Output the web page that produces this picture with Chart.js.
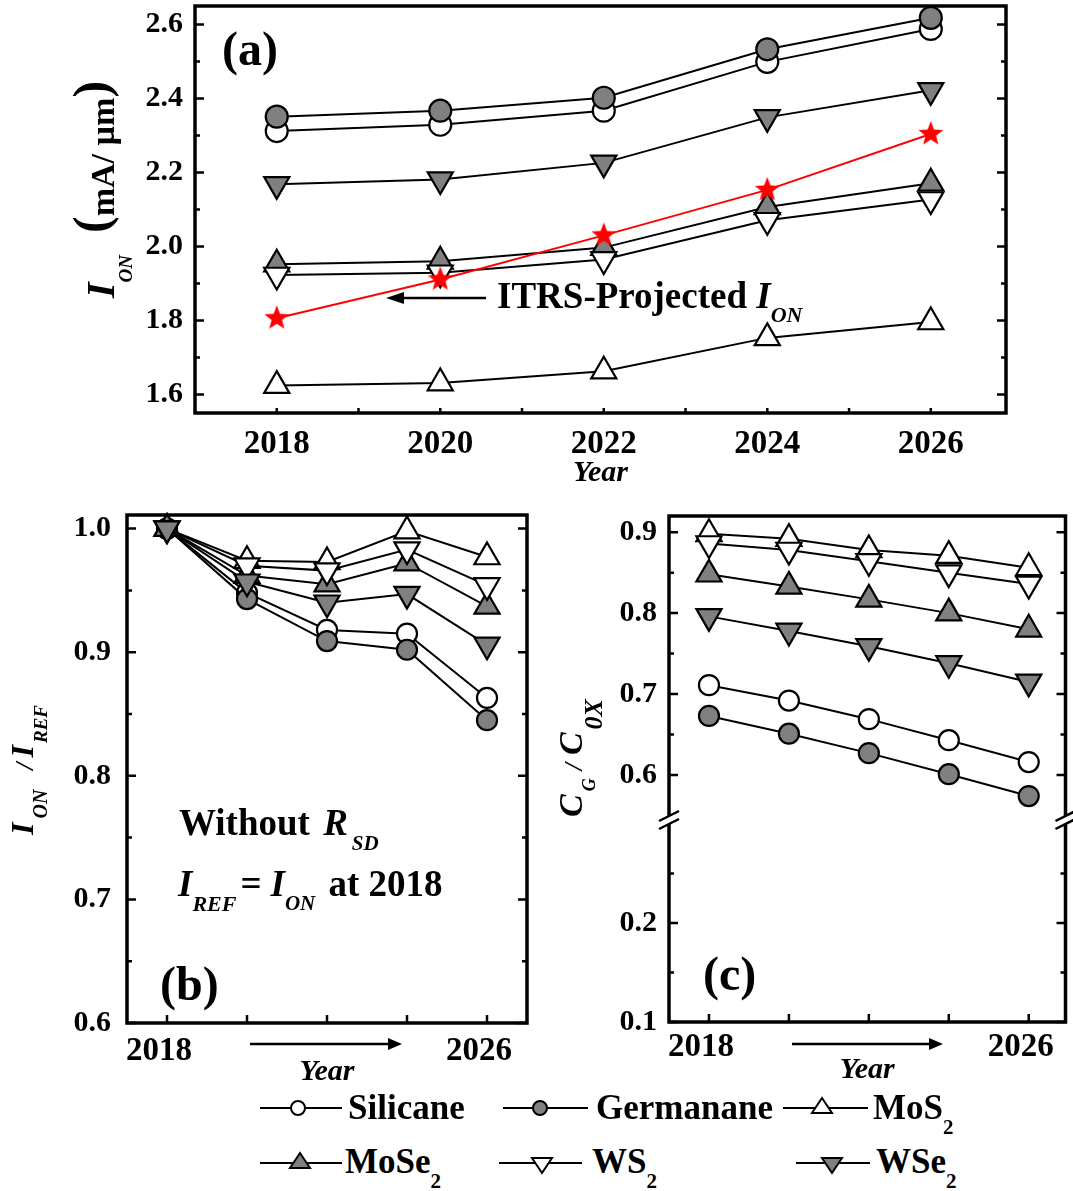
<!DOCTYPE html>
<html><head><meta charset="utf-8">
<script src="https://cdn.jsdelivr.net/npm/chart.js"></script>
<style>
html,body{margin:0;padding:0;background:#fff}
body{position:relative;width:1073px;height:1191px;overflow:hidden}
canvas{position:absolute}
.lt{position:absolute;font-family:"Liberation Serif","Times New Roman",serif;font-weight:bold;font-size:35px;line-height:1;color:#000;white-space:nowrap}
.lt sub{font-size:21px;vertical-align:baseline;position:relative;top:15px}
svg.lm{position:absolute;overflow:visible}
</style></head><body>
<canvas id="ca" width="1073" height="495" style="left:0;top:0"></canvas>
<canvas id="cb" width="540" height="590" style="left:0;top:500px"></canvas>
<canvas id="cc" width="533" height="590" style="left:540px;top:500px"></canvas>
<div id="legend"></div>
<script>
// ---------------- data ----------------
const years = [2018, 2020, 2022, 2024, 2026];
const seriesNames = ['Silicane', 'Germanane', 'MoS2', 'MoSe2', 'WS2', 'WSe2'];
// (a) I_ON (mA/um)
const ionSilicane  = [2.312, 2.329, 2.367, 2.499, 2.588];
const ionGermanane = [2.351, 2.367, 2.402, 2.533, 2.618];
const ionMoS2      = [1.624, 1.631, 1.663, 1.753, 1.796];
const ionMoSe2     = [1.952, 1.960, 1.997, 2.107, 2.171];
const ionWS2       = [1.923, 1.929, 1.965, 2.071, 2.127];
const ionWSe2      = [2.168, 2.181, 2.226, 2.349, 2.422];
const ionITRS      = [1.806, 1.911, 2.030, 2.153, 2.304];
// (b) I_ON / I_REF
const relSilicane  = [1.000, 0.948, 0.918, 0.915, 0.863];
const relGermanane = [1.000, 0.943, 0.909, 0.902, 0.845];
const relMoS2      = [1.000, 0.974, 0.973, 0.998, 0.977];
const relMoSe2     = [1.000, 0.962, 0.955, 0.972, 0.937];
const relWS2       = [1.000, 0.970, 0.966, 0.983, 0.954];
const relWSe2      = [1.000, 0.957, 0.940, 0.947, 0.906];
// (c) C_G / C_OX
const cgSilicane  = [0.711, 0.692, 0.669, 0.643, 0.616];
const cgGermanane = [0.673, 0.651, 0.627, 0.601, 0.574];
const cgMoS2      = [0.898, 0.892, 0.878, 0.871, 0.856];
const cgMoSe2     = [0.848, 0.833, 0.817, 0.800, 0.780];
const cgWS2       = [0.886, 0.878, 0.864, 0.850, 0.836];
const cgWSe2      = [0.796, 0.778, 0.759, 0.738, 0.715];
// tick labels
const xLabelsA = [2018, 2020, 2022, 2024, 2026];
const xLabelsBC = [2018, 2026];
const yLabelsA = [1.6, 1.8, 2.0, 2.2, 2.4, 2.6];
const yMinorA = [1.7, 1.9, 2.1, 2.3, 2.5];
const xTickYearsA = [2018, 2019, 2020, 2021, 2022, 2023, 2024, 2025, 2026];
const yLabelsB = [0.6, 0.7, 0.8, 0.9, 1.0];
const yMinorB = [0.65, 0.75, 0.85, 0.95];
const yLabelsCTop = [0.6, 0.7, 0.8, 0.9];
const yMinorCTop = [0.65, 0.75, 0.85];
const yLabelsCBot = [0.1, 0.2];
const yMinorCBot = [0.15, 0.25];

// ---------------- styles ----------------
const F = '"Liberation Serif","Times New Roman",serif';
const GREY = '#808080';
Chart.defaults.font.family = F;
Chart.defaults.color = '#000';
const markerKinds = [
  {style: 'circle', rot: 0, fill: '#ffffff'},
  {style: 'circle', rot: 0, fill: GREY},
  {style: 'triangle', rot: 0, fill: '#ffffff'},
  {style: 'triangle', rot: 0, fill: GREY},
  {style: 'triangle', rot: 180, fill: '#ffffff'},
  {style: 'triangle', rot: 180, fill: GREY}
];
function fnt(size, style) { return ((style ? style + ' ' : '') + 'bold ' + size + 'px ' + F); }

function starImg(r) {
  const c = document.createElement('canvas');
  const s = Math.ceil(2 * r + 4);
  c.width = c.height = s;
  const g = c.getContext('2d');
  g.fillStyle = '#ff0000';
  g.beginPath();
  for (let i = 0; i < 10; i++) {
    const a = -Math.PI / 2 + i * Math.PI / 5;
    const rr = i % 2 ? r * 0.42 : r;
    g.lineTo(s / 2 + rr * Math.cos(a), s / 2 + rr * Math.sin(a));
  }
  g.closePath(); g.fill();
  return c;
}

function seriesDatasets(arrays, rCircle, rTri, yAxisID) {
  return arrays.map((vals, i) => {
    const k = markerKinds[i];
    const r = k.style === 'circle' ? rCircle : rTri;
    return {
      label: seriesNames[i],
      data: years.map((x, j) => ({x: x, y: vals[j]})),
      yAxisID: yAxisID,
      borderColor: '#000', borderWidth: 2,
      pointStyle: k.style, pointRotation: k.rot,
      pointBackgroundColor: k.fill, pointBorderColor: '#000', pointBorderWidth: 2.2,
      pointRadius: r, pointHoverRadius: r,
      tension: 0, fill: false, clip: false,
      order: 10 - i
    };
  });
}

function xScale(o) {
  return {
    type: 'linear', position: 'bottom', min: o.min, max: o.max,
    grid: {display: false, drawTicks: false}, border: {display: false},
    ticks: {
      stepSize: 1, autoSkip: false, maxRotation: 0, minRotation: 0, includeBounds: false,
      padding: o.pad, labelOffset: o.labelOffset || 0,
      font: {family: F, size: 33, weight: 'bold'}, color: '#000',
      callback: v => (Math.abs(v - Math.round(v)) < 1e-6 && o.labels.includes(Math.round(v))) ? String(Math.round(v)) : ''
    },
    title: {display: true, text: 'Year', color: '#000',
      font: {family: F, size: 30, weight: 'bold', style: 'italic'},
      padding: {top: 0, bottom: o.titlePadB}},
    afterFit: s => { s.height = o.height; s.paddingLeft = 0; s.paddingRight = 0; }
  };
}
function yScale(o) {
  const sc = {
    type: 'linear', position: 'left', min: o.min, max: o.max,
    grid: {display: false, drawTicks: false}, border: {display: false},
    ticks: {
      stepSize: o.step, includeBounds: false, autoSkip: false, padding: o.pad,
      font: {family: F, size: 30, weight: 'bold', lineHeight: 0.2}, color: '#000',
      callback: v => o.labels.some(t => Math.abs(t - v) < 1e-6) ? v.toFixed(1) : ''
    },
    afterFit: s => { s.width = o.width; s.paddingTop = 0; s.paddingBottom = 0; }
  };
  if (o.stack) { sc.stack = o.stack; sc.stackWeight = o.weight; }
  return sc;
}

// ---------------- drawing helpers ----------------
function drawRich(ctx, x, y, segs, rot) {
  ctx.save();
  ctx.translate(x, y);
  if (rot) ctx.rotate(rot);
  ctx.fillStyle = '#000'; ctx.textBaseline = 'alphabetic'; ctx.textAlign = 'left';
  let cx = 0;
  for (const s of segs) {
    ctx.font = s.f;
    cx += s.dx || 0;
    ctx.fillText(s.t, cx, s.dy || 0);
    cx += ctx.measureText(s.t).width;
  }
  ctx.restore();
}
function arrow(ctx, x1, y, x2, head) {
  const dir = Math.sign(x2 - x1);
  ctx.save();
  ctx.strokeStyle = '#000'; ctx.fillStyle = '#000'; ctx.lineWidth = 2.5;
  ctx.beginPath(); ctx.moveTo(x1, y); ctx.lineTo(x2 - dir * head, y); ctx.stroke();
  ctx.beginPath(); ctx.moveTo(x2, y); ctx.lineTo(x2 - dir * head, y - 6); ctx.lineTo(x2 - dir * head, y + 6); ctx.closePath(); ctx.fill();
  ctx.restore();
}
function yTicks(ctx, a, scale, vals, len) {
  ctx.save(); ctx.strokeStyle = '#000'; ctx.lineWidth = 2.5;
  ctx.beginPath();
  for (const v of vals) {
    const p = scale.getPixelForValue(v);
    ctx.moveTo(a.left, p); ctx.lineTo(a.left + len, p);
    ctx.moveTo(a.right, p); ctx.lineTo(a.right - len, p);
  }
  ctx.stroke(); ctx.restore();
}
function xTicks(ctx, a, scale, vals, len) {
  ctx.save(); ctx.strokeStyle = '#000'; ctx.lineWidth = 2.5;
  ctx.beginPath();
  for (const v of vals) {
    const p = scale.getPixelForValue(v);
    ctx.moveTo(p, a.bottom); ctx.lineTo(p, a.bottom - len);
  }
  ctx.stroke(); ctx.restore();
}
function frame(ctx, a) {
  ctx.save(); ctx.lineWidth = 3.5; ctx.strokeStyle = '#000';
  ctx.strokeRect(a.left, a.top, a.right - a.left, a.bottom - a.top);
  ctx.restore();
}
const common = {
  responsive: false, animation: false, devicePixelRatio: 1, events: [],
  plugins: {legend: {display: false}, tooltip: {enabled: false}}
};

// ---------------- panel (a) ----------------
const itrsDataset = {
  label: 'ITRS-Projected I_ON',
  data: years.map((x, j) => ({x: x, y: ionITRS[j]})),
  yAxisID: 'y',
  borderColor: '#ff0000', borderWidth: 2,
  pointStyle: starImg(13), pointRadius: 13, pointHoverRadius: 13,
  tension: 0, fill: false, clip: false, order: 0
};
new Chart(document.getElementById('ca'), {
  type: 'line',
  data: {datasets: seriesDatasets([ionSilicane, ionGermanane, ionMoS2, ionMoSe2, ionWS2, ionWSe2], 11, 14.5, 'y').concat([itrsDataset])},
  options: Object.assign({}, common, {
    layout: {autoPadding: false, padding: {top: 6, right: 67, bottom: 0, left: 0}},
    scales: {
      x: xScale({min: 2017, max: 2026.92, labels: xLabelsA, pad: 12, height: 82, titlePadB: 4}),
      y: yScale({min: 1.55, max: 2.65, step: 0.2, labels: yLabelsA, pad: 12, width: 195})
    }
  }),
  plugins: [{
    id: 'decoA',
    afterDraw(chart) {
      const ctx = chart.ctx, a = chart.chartArea;
      frame(ctx, a);
      yTicks(ctx, a, chart.scales.y, yLabelsA, 9);
      yTicks(ctx, a, chart.scales.y, yMinorA, 5);
      xTicks(ctx, a, chart.scales.x, xTickYearsA, 5);
      drawRich(ctx, 222, 65, [{t: '(a)', f: fnt(48)}]);
      arrow(ctx, 486, 298, 386, 18);
      drawRich(ctx, 497, 308, [
        {t: 'ITRS-Projected ', f: fnt(37)},
        {t: 'I', f: fnt(37, 'italic')},
        {t: 'ON', f: fnt(22, 'italic'), dy: 14}
      ]);
      drawRich(ctx, 114, 298, [
        {t: 'I', f: fnt(40, 'italic')},
        {t: 'ON', f: fnt(19, 'italic'), dy: 18},
        {t: '(', f: fnt(50), dx: 22, dy: -6},
        {t: 'mA/ \u00b5m', f: fnt(34)},
        {t: ')', f: fnt(50), dy: -6}
      ], -Math.PI / 2);
    }
  }]
});

// ---------------- panel (b) ----------------
new Chart(document.getElementById('cb'), {
  type: 'line',
  data: {datasets: seriesDatasets([relSilicane, relGermanane, relMoS2, relMoSe2, relWS2, relWSe2], 10, 14.5, 'y')},
  options: Object.assign({}, common, {
    layout: {autoPadding: false, padding: {top: 15, right: 13, bottom: 0, left: 0}},
    scales: {
      x: xScale({min: 2017, max: 2027, labels: xLabelsBC, pad: 9, height: 67, titlePadB: 0, labelOffset: -8}),
      y: yScale({min: 0.6, max: 1.011, step: 0.1, labels: yLabelsB, pad: 16, width: 127})
    }
  }),
  plugins: [{
    id: 'decoB',
    afterDraw(chart) {
      const ctx = chart.ctx, a = chart.chartArea;
      frame(ctx, a);
      yTicks(ctx, a, chart.scales.y, yLabelsB, 9);
      yTicks(ctx, a, chart.scales.y, yMinorB, 5);
      xTicks(ctx, a, chart.scales.x, years, 8);
      arrow(ctx, 250, 544, 402, 14);
      drawRich(ctx, 160, 500, [{t: '(b)', f: fnt(48)}]);
      drawRich(ctx, 179, 335, [
        {t: 'Without ', f: fnt(37)},
        {t: 'R', f: fnt(37, 'italic'), dx: 4},
        {t: 'SD', f: fnt(21, 'italic'), dx: 4, dy: 15}
      ]);
      drawRich(ctx, 178, 396, [
        {t: 'I', f: fnt(37, 'italic')},
        {t: 'REF', f: fnt(22, 'italic'), dy: 15},
        {t: '=', f: fnt(37), dx: 4},
        {t: 'I', f: fnt(37, 'italic'), dx: 9},
        {t: 'ON', f: fnt(21, 'italic'), dy: 14},
        {t: ' at 2018', f: fnt(37), dx: 4}
      ]);
      drawRich(ctx, 33, 335, [
        {t: 'I', f: fnt(32, 'italic')},
        {t: 'ON', f: fnt(20, 'italic'), dx: 4, dy: 14},
        {t: '/', f: fnt(26, 'italic'), dx: 20},
        {t: 'I', f: fnt(32, 'italic'), dx: 5},
        {t: 'REF', f: fnt(19, 'italic'), dx: 2, dy: 14}
      ], -Math.PI / 2);
    }
  }]
});

// ---------------- panel (c) (broken y axis: two stacked scales) ----------------
new Chart(document.getElementById('cc'), {
  type: 'line',
  data: {datasets: seriesDatasets([cgSilicane, cgGermanane, cgMoS2, cgMoSe2, cgWS2, cgWSe2], 10, 14.5, 'yTop')},
  options: Object.assign({}, common, {
    layout: {autoPadding: false, padding: {top: 16, right: 7.5, bottom: 0, left: 0}},
    scales: {
      x: xScale({min: 2017, max: 2026.92, labels: xLabelsBC, pad: 6, height: 68, titlePadB: 2, labelOffset: -8}),
      yBot: yScale({min: 0.1, max: 0.304, step: 0.1, labels: yLabelsCBot, pad: 12, width: 129, stack: 'cg', weight: 202}),
      yTop: yScale({min: 0.5444, max: 0.92, step: 0.1, labels: yLabelsCTop, pad: 12, width: 129, stack: 'cg', weight: 304})
    }
  }),
  plugins: [{
    id: 'decoC',
    afterDraw(chart) {
      const ctx = chart.ctx, a = chart.chartArea;
      const yt = chart.scales.yTop, yb = chart.scales.yBot;
      const brk = yt.top < yb.top ? yt.bottom : yb.bottom;
      ctx.save(); ctx.lineWidth = 3.5; ctx.strokeStyle = '#000';
      ctx.beginPath();
      ctx.moveTo(a.left, a.top); ctx.lineTo(a.right, a.top);
      ctx.moveTo(a.left, a.bottom); ctx.lineTo(a.right, a.bottom);
      for (const X of [a.left, a.right]) {
        ctx.moveTo(X, a.top - 1.75); ctx.lineTo(X, brk - 4);
        ctx.moveTo(X, brk + 4); ctx.lineTo(X, a.bottom + 1.75);
      }
      ctx.stroke();
      ctx.lineWidth = 2.5;
      ctx.beginPath();
      for (const X of [a.left, a.right]) {
        for (const d of [-4, 4]) { ctx.moveTo(X - 10, brk + d + 5); ctx.lineTo(X + 10, brk + d - 5); }
      }
      ctx.stroke(); ctx.restore();
      yTicks(ctx, a, yt, yLabelsCTop, 9);
      yTicks(ctx, a, yt, yMinorCTop, 5);
      yTicks(ctx, a, yb, yLabelsCBot, 9);
      yTicks(ctx, a, yb, yMinorCBot, 5);
      xTicks(ctx, a, chart.scales.x, years, 8);
      arrow(ctx, 252, 544, 403, 14);
      drawRich(ctx, 163, 490, [{t: '(c)', f: fnt(48)}]);
      drawRich(ctx, 42, 317, [
        {t: 'C', f: fnt(34, 'italic')},
        {t: 'G', f: fnt(18, 'italic'), dx: 3, dy: 13},
        {t: '/', f: fnt(26, 'italic'), dx: 8},
        {t: 'C', f: fnt(34, 'italic'), dx: 8},
        {t: '0X', f: fnt(26, 'italic'), dx: 3, dy: 20}
      ], -Math.PI / 2);
    }
  }]
});

// ---------------- legend (HTML) ----------------
const legendPos = [
  {lx: 260, rx: 342, mx: 298, tx: 348, ly: 1108, base: 1119},
  {lx: 503, rx: 588, mx: 540, tx: 596, ly: 1108, base: 1119},
  {lx: 783, rx: 868, mx: 822, tx: 873, ly: 1108, base: 1119},
  {lx: 260, rx: 342, mx: 300, tx: 345, ly: 1163, base: 1173},
  {lx: 499, rx: 582, mx: 542, tx: 592, ly: 1163, base: 1173},
  {lx: 796, rx: 870, mx: 832, tx: 876, ly: 1163, base: 1173}
];
const legend = document.getElementById('legend');
seriesNames.forEach((name, i) => {
  const p = legendPos[i], k = markerKinds[i];
  const w = p.rx - p.lx, m = p.mx - p.lx;
  let shape;
  if (k.style === 'circle') {
    shape = `<circle cx="${m}" cy="15" r="7" fill="${k.fill}" stroke="#000" stroke-width="2"/>`;
  } else if (k.rot === 0) {
    shape = `<polygon points="${m},5 ${m - 10},20 ${m + 10},20" fill="${k.fill}" stroke="#000" stroke-width="2" stroke-linejoin="miter"/>`;
  } else {
    shape = `<polygon points="${m},25 ${m - 10},10 ${m + 10},10" fill="${k.fill}" stroke="#000" stroke-width="2" stroke-linejoin="miter"/>`;
  }
  const svg = `<svg class="lm" style="left:${p.lx}px;top:${p.ly - 15}px" width="${w}" height="30"><line x1="0" y1="15" x2="${w}" y2="15" stroke="#000" stroke-width="2"/>${shape}</svg>`;
  const label = name.replace(/2$/, '<sub>2</sub>');
  const txt = `<div class="lt" style="left:${p.tx}px;top:${(p.base - 29.3).toFixed(1)}px">${label}</div>`;
  legend.insertAdjacentHTML('beforeend', svg + txt);
});
</script>
</body></html>
